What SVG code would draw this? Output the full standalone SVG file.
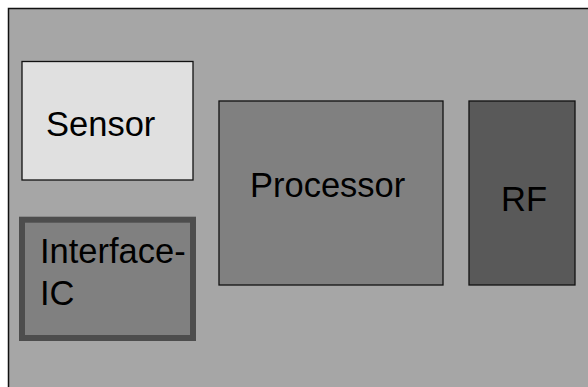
<svg xmlns="http://www.w3.org/2000/svg" width="588" height="387" viewBox="0 0 588 387">
<style>
.box{stroke:#111;stroke-width:1.3}
.t{font-family:"Liberation Sans",Arial,sans-serif;font-size:34.5px;fill:#000}
</style>
<rect width="588" height="387" fill="#fff"/>
<g id="board"><rect x="8.5" y="8.5" width="600" height="400" fill="#a6a6a6" stroke="#111" stroke-width="1.5"/></g>
<g id="sensor"><rect class="box" x="22" y="61.5" width="171" height="118.5" fill="#e0e0e0"/><text class="t" x="46" y="136">Sensor</text></g>
<g id="interface-ic"><rect x="22" y="219.7" width="171" height="118.3" fill="#808080" stroke="#4d4d4d" stroke-width="6"/><text class="t" x="40" y="263">Interface-</text><text class="t" x="40" y="305">IC</text></g>
<g id="processor"><rect class="box" x="219" y="101" width="224" height="184" fill="#808080"/><text class="t" x="250" y="197">Processor</text></g>
<g id="rf"><rect class="box" x="469" y="101" width="106" height="184" fill="#595959"/><text class="t" x="501" y="211">RF</text></g>
<g id="connectors"/>
</svg>
